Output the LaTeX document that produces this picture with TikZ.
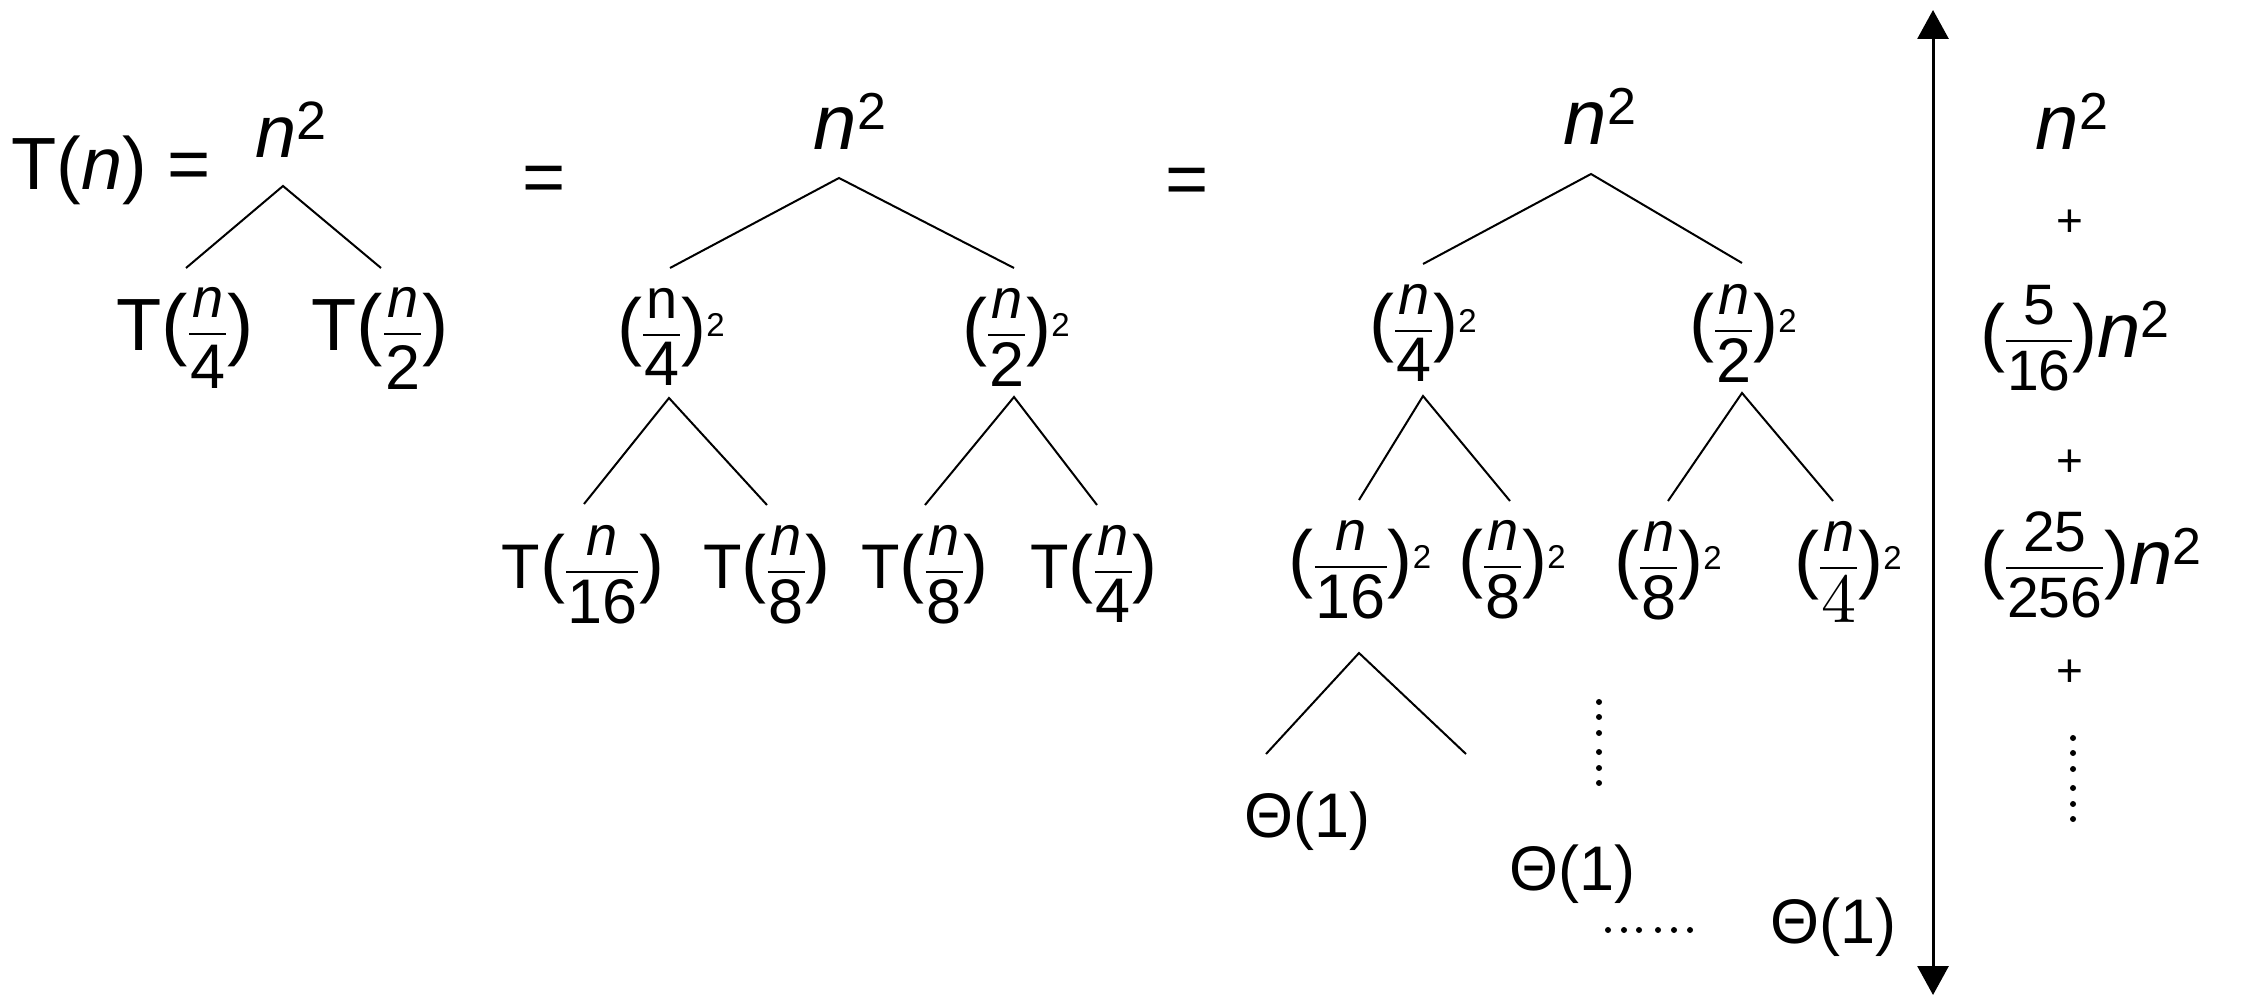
\documentclass[tikz,border=0pt]{standalone}
\usepackage{fontspec}
\setmainfont{Liberation Sans}
\newfontfamily\lmr{lmroman10-regular.otf}
\usetikzlibrary{arrows.meta}
% fraction: #1 gap under the bar, #2 numerator, #3 denominator
\newcommand\fr[3][6pt]{%
  \setbox0=\hbox{#2}\setbox2=\hbox{#3}%
  \dimen0=\wd0 \ifdim\wd2>\dimen0 \dimen0=\wd2 \fi
  \advance\dimen0 by 2pt
  \kern1pt
  \raise16pt\hbox to\dimen0{%
    \rlap{\vrule height1.25pt depth1.25pt width\dimen0}%
    \rlap{\hbox to\dimen0{\hss\raise16.25pt\box0\hss}}%
    \rlap{\hbox to\dimen0{\hss\lower\dimexpr#1+1.25pt+\ht2\relax\box2\hss}}%
    \hss}%
  \kern1pt}
\newcommand\N{\fontsize{56}{60}\selectfont\itshape n}
\newcommand\Nu{\fontsize{56}{60}\selectfont n}
\newcommand\D[1]{\fontsize{63}{66}\selectfont #1}
\newcommand\Dr[1]{\fontsize{57}{60}\selectfont #1}
\newcommand\LP[1][75]{{\fontsize{#1}{#1}\selectfont (}}
\newcommand\RP[1][75]{{\fontsize{#1}{#1}\selectfont )}}
\newcommand\sq{\raise15pt\hbox{\fontsize{33}{36}\selectfont 2}}
\newcommand\nsq[2][52]{{\itshape n}\raise#2\hbox{\fontsize{#1}{#1}\selectfont 2}}
\tikzset{
  lbl/.style={inner sep=0pt, anchor=base, font=\fontsize{63}{70}\selectfont},
  big/.style={lbl, font=\fontsize{74}{80}\selectfont},
  root/.style={lbl, font=\fontsize{78}{84}\selectfont},
  plus/.style={lbl, font=\fontsize{46}{50}\selectfont},
  edge/.style={line width=2pt},
  axis/.style={line width=3pt, {Triangle[width=31pt,length=29pt]}-{Triangle[width=31pt,length=29pt]}},
  dot/.style={fill=black}
}
\begin{document}
\begin{tikzpicture}[x=1pt,y=-1pt]
\path[use as bounding box] (0,0) rectangle (2251,1000);

% ---------- first tree ----------
\node[big, anchor=base west] (Tn) at (11,190) {T(\textit{n}) =};
\node[big] (r1) at (291,158) {\nsq[54]{18pt}};
\node[big] (c1a) at (185,350) {T\LP[79]\fr[10pt]{\N}{\D{4}}\RP[79]};
\node[big] (c1b) at (380,350) {T\LP[79]\fr[10pt]{\N}{\D{2}}\RP[79]};
\coordinate (t1r) at (283,186);
\coordinate (t1a) at (186,268);
\coordinate (t1b) at (381,268);
\draw[edge] (t1a) -- (t1r) -- (t1b);

% ---------- second tree ----------
\node[big] (eq2) at (544,203) {=};
\node[root] (r2) at (850,150) {\nsq{20pt}};
\node[lbl] (c2a) at (671,351) {\LP\fr{\Nu}{\D{4}}\RP\sq};
\node[lbl] (c2b) at (1016,351) {\LP\fr{\N}{\D{2}}\RP\sq};
\node[lbl] (c2aa) at (583,588) {T\LP\fr{\N}{\D{16}}\RP};
\node[lbl] (c2ab) at (767,588) {T\LP\fr{\N}{\D{8}}\RP};
\node[lbl] (c2ba) at (925,588) {T\LP\fr{\N}{\D{8}}\RP};
\node[lbl] (c2bb) at (1094,588) {T\LP\fr{\N}{\D{4}}\RP};
\coordinate (t2r) at (839,178);
\coordinate (t2a) at (670,268);
\coordinate (t2b) at (1014,268);
\coordinate (t2ar) at (669,398);
\coordinate (t2aa) at (584,504);
\coordinate (t2ab) at (767,505);
\coordinate (t2br) at (1014,397);
\coordinate (t2ba) at (925,505);
\coordinate (t2bb) at (1097,505);
\draw[edge] (t2a) -- (t2r) -- (t2b);
\draw[edge] (t2aa) -- (t2ar) -- (t2ab);
\draw[edge] (t2ba) -- (t2br) -- (t2bb);

% ---------- third tree ----------
\node[big] (eq3) at (1187,205) {=};
\node[root] (r3) at (1600,145) {\nsq{20pt}};
\node[lbl] (c3a) at (1423,347) {\LP\fr{\N}{\D{4}}\RP\sq};
\node[lbl] (c3b) at (1743,347) {\LP\fr{\N}{\D{2}}\RP\sq};
\node[lbl] (c3aa) at (1360,583) {\LP\fr{\N}{\D{16}}\RP\sq};
\node[lbl] (c3ab) at (1512,583) {\LP\fr{\N}{\D{8}}\RP\sq};
\node[lbl] (c3ba) at (1668,584) {\LP\fr{\N}{\D{8}}\RP\sq};
\node[lbl] (c3bb) at (1848,584) {\LP\fr{\N}{{\fontsize{70}{72}\lmr 4}}\RP\sq};
\node[lbl] (th1) at (1307,837) {Θ(1)};
\node[lbl] (th2) at (1572,890) {Θ(1)};
\node[lbl] (th3) at (1833,943) {Θ(1)};
\coordinate (t3r) at (1591,174);
\coordinate (t3a) at (1423,264);
\coordinate (t3b) at (1742,263);
\coordinate (t3ar) at (1423,396);
\coordinate (t3aa) at (1359,500);
\coordinate (t3ab) at (1510,501);
\coordinate (t3br) at (1742,393);
\coordinate (t3ba) at (1668,501);
\coordinate (t3bb) at (1833,501);
\coordinate (t3aar) at (1359,653);
\coordinate (t3aaa) at (1266,754);
\coordinate (t3aab) at (1466,754);
\draw[edge] (t3a) -- (t3r) -- (t3b);
\draw[edge] (t3aa) -- (t3ar) -- (t3ab);
\draw[edge] (t3ba) -- (t3br) -- (t3bb);
\draw[edge] (t3aaa) -- (t3aar) -- (t3aab);
% vertical and horizontal dots
\foreach \y in {702,717,733,752,768,783} \fill[dot] (1599,\y) circle[radius=3pt];
\foreach \x in {1608,1624,1639,1658,1674,1690} \fill[dot] (\x,930) circle[radius=3pt];

% ---------- axis ----------
\coordinate (atop) at (1933,10);
\coordinate (abot) at (1933,995);
\draw[axis] (atop) -- (abot);

% ---------- right column ----------
\node[root] (s0) at (2072,150) {\nsq{20pt}};
\node[plus] (p1) at (2070,237) {+};
\node[lbl, anchor=base west] (s1) at (1980,357) {\LP\fr[8pt]{\Dr{5}}{\Dr{16}}\RP{\fontsize{78}{84}\selectfont\nsq{20pt}}};
\node[plus] (p2) at (2070,476) {+};
\node[lbl, anchor=base west] (s2) at (1980,584) {\LP\fr[8pt]{\Dr{25}}{\Dr{256}}\RP{\fontsize{78}{84}\selectfont\nsq{20pt}}};
\node[plus] (p3) at (2070,686) {+};
\foreach \y in {738,753,769,788,804,819} \fill[dot] (2073,\y) circle[radius=3pt];
\end{tikzpicture}
\end{document}
